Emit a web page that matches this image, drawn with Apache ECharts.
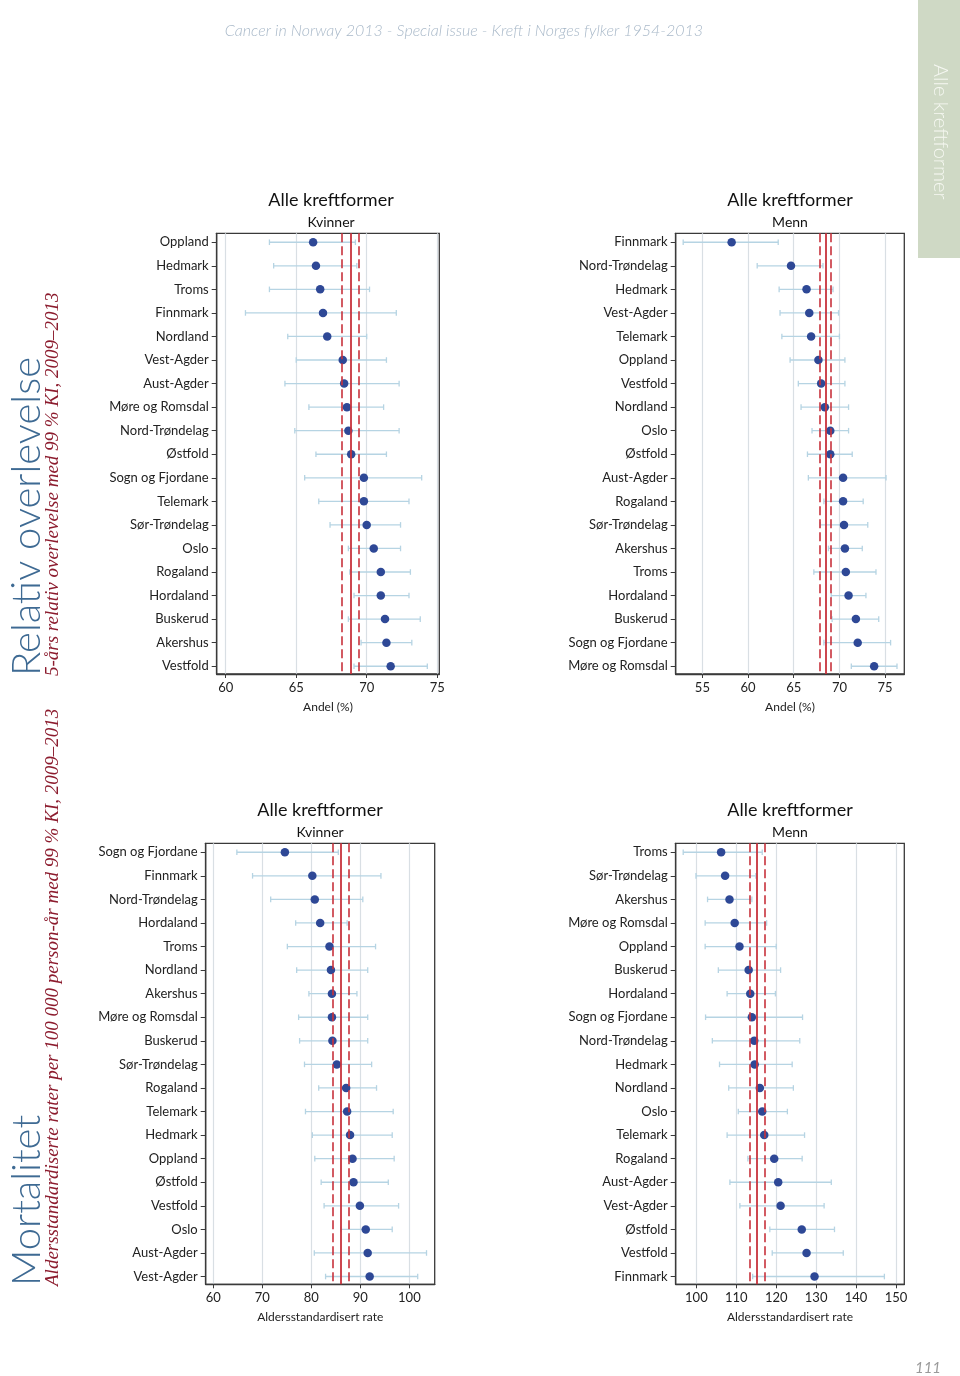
<!DOCTYPE html>
<html>
<head>
<meta charset="utf-8">
<script src="https://cdn.jsdelivr.net/npm/echarts@6/dist/echarts.min.js"></script>
<style>
html,body{margin:0;padding:0;background:#fff;}
#chart{width:960px;height:1376px;}
</style>
</head>
<body>
<div id="chart"></div>
<script>
// ---------- DATA ----------
// Panel 1: Relativ overlevelse, Kvinner (Andel %)
const p1Names = ['Oppland','Hedmark','Troms','Finnmark','Nordland','Vest-Agder','Aust-Agder','Møre og Romsdal','Nord-Trøndelag','Østfold','Sogn og Fjordane','Telemark','Sør-Trøndelag','Oslo','Rogaland','Hordaland','Buskerud','Akershus','Vestfold'];
const p1Est = [66.2,66.4,66.7,66.9,67.2,68.3,68.4,68.6,68.7,68.9,69.8,69.8,70.0,70.5,71.0,71.0,71.3,71.4,71.7];
const p1Lo  = [63.1,63.4,63.1,61.4,64.4,65.0,64.2,65.9,64.9,66.4,65.6,66.6,67.4,68.7,68.8,69.1,68.7,69.6,69.1];
const p1Hi  = [69.2,69.3,70.2,72.1,70.0,71.4,72.3,71.2,72.3,71.4,73.9,73.0,72.4,72.4,73.1,73.0,73.8,73.2,74.3];
const p1Ref = [68.25,68.87,69.45];
const p1Ticks = [60,65,70,75];

// Panel 2: Relativ overlevelse, Menn (Andel %)
const p2Names = ['Finnmark','Nord-Trøndelag','Hedmark','Vest-Agder','Telemark','Oppland','Vestfold','Nordland','Oslo','Østfold','Aust-Agder','Rogaland','Sør-Trøndelag','Akershus','Troms','Hordaland','Buskerud','Sogn og Fjordane','Møre og Romsdal'];
const p2Est = [58.2,64.7,66.4,66.7,66.9,67.7,68.0,68.4,69.0,69.0,70.4,70.4,70.5,70.6,70.7,71.0,71.8,72.0,73.8];
const p2Lo  = [52.9,61.0,63.4,63.5,63.7,64.6,65.5,65.8,67.0,66.5,66.6,68.3,67.9,68.8,67.2,69.1,69.2,68.3,71.3];
const p2Hi  = [63.3,68.2,69.3,69.9,70.0,70.6,70.6,71.0,71.0,71.4,75.1,72.6,73.1,72.5,74.0,72.9,74.3,75.6,76.3];
const p2Ref = [67.88,68.5,69.09];
const p2Ticks = [55,60,65,70,75];

// Panel 3: Mortalitet, Kvinner (Aldersstandardisert rate)
const p3Names = ['Sogn og Fjordane','Finnmark','Nord-Trøndelag','Hordaland','Troms','Nordland','Akershus','Møre og Romsdal','Buskerud','Sør-Trøndelag','Rogaland','Telemark','Hedmark','Oppland','Østfold','Vestfold','Oslo','Aust-Agder','Vest-Agder'];
const p3Est = [74.6,80.2,80.7,81.8,83.7,84.0,84.2,84.2,84.3,85.2,87.1,87.3,87.9,88.4,88.6,89.9,91.1,91.5,91.9];
const p3Lo  = [64.8,68.0,71.7,76.8,75.1,77.0,79.5,77.4,77.6,78.6,81.5,78.8,80.2,80.7,82.0,82.6,86.0,80.6,82.9];
const p3Hi  = [85.5,94.2,90.5,87.3,93.1,91.5,89.3,91.5,91.5,92.3,93.3,96.7,96.5,96.9,95.7,97.8,96.5,103.5,101.7];
const p3Ref = [84.35,86.0,87.7];
const p3Ticks = [60,70,80,90,100];

// Panel 4: Mortalitet, Menn (Aldersstandardisert rate)
const p4Names = ['Troms','Sør-Trøndelag','Akershus','Møre og Romsdal','Oppland','Buskerud','Hordaland','Sogn og Fjordane','Nord-Trøndelag','Hedmark','Nordland','Oslo','Telemark','Rogaland','Aust-Agder','Vest-Agder','Østfold','Vestfold','Finnmark'];
const p4Est = [106.2,107.2,108.3,109.6,110.8,113.1,113.5,113.9,114.5,114.6,115.9,116.5,117.0,119.5,120.5,121.1,126.4,127.6,129.6];
const p4Lo  = [96.7,99.9,102.8,102.2,102.2,105.5,107.7,102.3,104.0,105.8,108.1,110.5,107.7,112.9,108.4,110.9,118.4,119.0,114.1];
const p4Hi  = [116.5,114.9,113.9,117.6,120.0,121.1,119.8,126.6,125.9,124.0,124.3,122.8,127.1,126.5,133.8,132.0,134.6,136.8,147.1];
const p4Ref = [113.36,115.2,117.1];
const p4Ticks = [100,110,120,130,140,150];

// ---------- STYLE / LAYOUT ----------
const FONT = 'Lato, "Open Sans", sans-serif';
const dotColor = '#2e4896';
const errColor = '#b6d4e3';
const redColor = '#c8323c';
const gridLineColor = '#d9dfe4';
const frameColor = '#3a3a3a';

const panels = [
  {names:p1Names, est:p1Est, lo:p1Lo, hi:p1Hi, ref:p1Ref, ticks:p1Ticks, xmin:59.36, xmax:75.15, xname:'Andel (%)',
   grid:{left:216.7, top:233.3, width:222.6, height:440.7}, sub:'Kvinner', tx:331},
  {names:p2Names, est:p2Est, lo:p2Lo, hi:p2Hi, ref:p2Ref, ticks:p2Ticks, xmin:52.08, xmax:77.1, xname:'Andel (%)',
   grid:{left:675.7, top:233.3, width:228.6, height:440.7}, sub:'Menn', tx:790},
  {names:p3Names, est:p3Est, lo:p3Lo, hi:p3Hi, ref:p3Ref, ticks:p3Ticks, xmin:58.44, xmax:105.17, xname:'Aldersstandardisert rate',
   grid:{left:205.7, top:843.3, width:229, height:441}, sub:'Kvinner', tx:320},
  {names:p4Names, est:p4Est, lo:p4Lo, hi:p4Hi, ref:p4Ref, ticks:p4Ticks, xmin:94.82, xmax:152.09, xname:'Aldersstandardisert rate',
   grid:{left:675.7, top:843.3, width:228.6, height:441}, sub:'Menn', tx:790}
];

function renderErr(params, api) {
  const y = api.value(0), lo = api.value(1), hi = api.value(2);
  const a = api.coord([lo, y]), b = api.coord([hi, y]);
  const h = 2.8;
  const st = {stroke: errColor, lineWidth: 1.3};
  return {type:'group', children:[
    {type:'line', shape:{x1:a[0], y1:a[1], x2:b[0], y2:b[1]}, style:st},
    {type:'line', shape:{x1:a[0], y1:a[1]-h, x2:a[0], y2:a[1]+h}, style:st},
    {type:'line', shape:{x1:b[0], y1:b[1]-h, x2:b[0], y2:b[1]+h}, style:st}
  ]};
}

const grids = [], xAxes = [], yAxes = [], series = [], graphics = [];
const idxs = p1Names.map((_, i) => i);

panels.forEach((p, k) => {
  grids.push(Object.assign({show:true, borderColor:frameColor, borderWidth:1.3, backgroundColor:'#fff'}, p.grid));
  xAxes.push({
    type:'value', gridIndex:k, min:p.xmin, max:p.xmax, position:'bottom',
    name:p.xname, nameLocation:'middle', nameGap:27,
    nameTextStyle:{fontFamily:FONT, fontSize:12, color:'#222'},
    axisLine:{show:true, onZero:false, lineStyle:{color:frameColor, width:1.3}},
    axisTick:{show:true, length:4, customValues:p.ticks, lineStyle:{color:frameColor}},
    axisLabel:{customValues:p.ticks, margin:7, fontFamily:FONT, fontSize:13, color:'#222'},
    splitLine:{show:true, lineStyle:{color:gridLineColor, width:1.2}}
  });
  yAxes.push({
    type:'value', gridIndex:k, inverse:true, min:-0.38, max:18.33, position:'left',
    axisLine:{show:true, onZero:false, lineStyle:{color:frameColor, width:1.3}},
    axisTick:{show:true, length:5, customValues:idxs, lineStyle:{color:frameColor}},
    axisLabel:{customValues:idxs, margin:8, fontFamily:FONT, fontSize:13, color:'#222',
      formatter:(v) => p.names[Math.round(v)]},
    splitLine:{show:false}
  });
  series.push({
    type:'custom', xAxisIndex:k, yAxisIndex:k, z:2, silent:true,
    renderItem:renderErr, encode:{x:[1,2], y:0},
    data:p.names.map((_, i) => [i, p.lo[i], p.hi[i]])
  });
  series.push({
    type:'line', xAxisIndex:k, yAxisIndex:k, z:3, data:[], silent:true,
    markLine:{silent:true, symbol:['none','none'], label:{show:false}, animation:false,
      lineStyle:{color:redColor, width:1.6},
      data:[
        {xAxis:p.ref[0], lineStyle:{type:[9,4], color:redColor, width:1.6}},
        {xAxis:p.ref[1], lineStyle:{type:'solid', color:redColor, width:1.8}},
        {xAxis:p.ref[2], lineStyle:{type:[9,4], color:redColor, width:1.6}}
      ]}
  });
  series.push({
    type:'scatter', xAxisIndex:k, yAxisIndex:k, z:4, symbol:'circle', symbolSize:8.5,
    itemStyle:{color:dotColor, opacity:1},
    data:p.est.map((v, i) => [v, i])
  });
  const ty = p.grid.top;
  graphics.push({type:'text', x:p.tx, y:ty - 33, style:{text:'Alle kreftformer', fontFamily:FONT, fontSize:18, fill:'#111', textAlign:'center', textVerticalAlign:'middle'}});
  graphics.push({type:'text', x:p.tx, y:ty - 11, style:{text:p.sub, fontFamily:FONT, fontSize:14, fill:'#111', textAlign:'center', textVerticalAlign:'middle'}});
});

// decorations
graphics.push({type:'text', x:464, y:31, style:{text:'Cancer in Norway 2013 - Special issue - Kreft i Norges fylker 1954-2013', fontFamily:FONT, fontStyle:'italic', fontWeight:300, fontSize:16, fill:'#a9b9c9', textAlign:'center', textVerticalAlign:'middle'}});
graphics.push({type:'rect', shape:{x:918, y:0, width:42, height:258}, style:{fill:'#cfd9c5'}});
graphics.push({type:'text', x:940, y:64, rotation:-Math.PI/2, style:{text:'Alle kreftformer', fontFamily:FONT, fontWeight:300, fontSize:20, fill:'#f6f8f2', textAlign:'left', textVerticalAlign:'middle'}});
graphics.push({type:'text', x:27, y:676, rotation:Math.PI/2, style:{text:'Relativ overlevelse', fontFamily:FONT, fontWeight:300, fontSize:40, fill:'#3e6a93', textAlign:'left', textVerticalAlign:'middle'}});
graphics.push({type:'text', x:53, y:676, rotation:Math.PI/2, style:{text:'5-års relativ overlevelse med 99 % KI, 2009–2013', fontFamily:'"Liberation Serif", serif', fontStyle:'italic', fontSize:19, fill:'#8c1c2e', textAlign:'left', textVerticalAlign:'middle'}});
graphics.push({type:'text', x:27, y:1286, rotation:Math.PI/2, style:{text:'Mortalitet', fontFamily:FONT, fontWeight:300, fontSize:40, fill:'#3e6a93', textAlign:'left', textVerticalAlign:'middle'}});
graphics.push({type:'text', x:53, y:1286, rotation:Math.PI/2, style:{text:'Aldersstandardiserte rater per 100 000 person-år med 99 % KI, 2009–2013', fontFamily:'"Liberation Serif", serif', fontStyle:'italic', fontSize:19, fill:'#8c1c2e', textAlign:'left', textVerticalAlign:'middle'}});
graphics.push({type:'text', x:928, y:1368, style:{text:'111', fontFamily:FONT, fontStyle:'italic', fontSize:15, fill:'#9a9a9a', textAlign:'center', textVerticalAlign:'middle'}});

const chart = echarts.init(document.getElementById('chart'), null, {renderer:'canvas'});
chart.setOption({
  animation:false,
  backgroundColor:'#fff',
  grid:grids, xAxis:xAxes, yAxis:yAxes, series:series,
  graphic:{elements:graphics}
});
</script>
</body>
</html>
